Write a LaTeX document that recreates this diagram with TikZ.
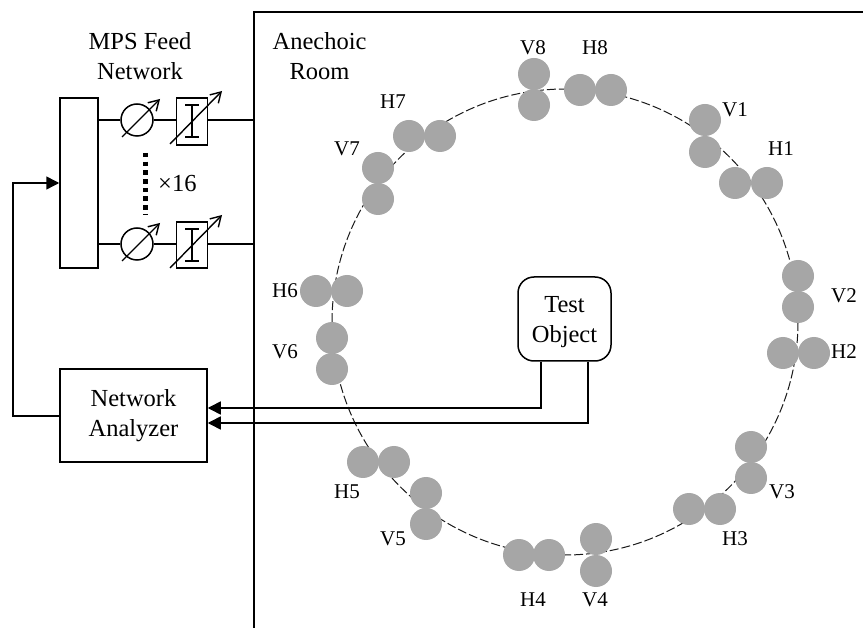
\documentclass[tikz,border=0pt]{standalone}
\usepackage{fontspec}
\setmainfont{Liberation Serif}
\usetikzlibrary{arrows.meta}
\definecolor{elem}{HTML}{A6A6A6}
\tikzset{
  wire/.style={line width=1.5pt,black},
  feed/.style={wire,-{Triangle[length=13pt,width=13pt]}},
  tune/.style={line width=1.4pt,-{Straight Barb[length=10pt,width=12pt]}},
  box/.style={draw,line width=1.5pt,fill=white,inner sep=0pt,minimum width=#1},
  phase/.style={draw,circle,line width=1.5pt,fill=white,minimum size=32pt,inner sep=0pt},
  ant/.style={circle,fill=elem,minimum size=32pt,inner sep=0pt},
  lab/.style={font=\fontsize{21}{24}\selectfont,inner sep=0pt},
  lab2/.style={font=\fontsize{24.5}{30}\selectfont,inner sep=0pt,align=center},
}
\begin{document}
\begin{tikzpicture}[x=1pt,y=-1pt]
\useasboundingbox (0,0) rectangle (863,628);
\fill[white] (0,0) rectangle (863,628);
% room
\coordinate (rb) at (254,628);\coordinate (rt) at (254,12);\coordinate (rr) at (863,12);
\draw[wire] (rb) -- (rt) -- (rr);
\coordinate (r1) at (254,120);\coordinate (r2) at (254,244);
% ring
\draw[line width=1pt,dash pattern=on 9pt off 3pt,black!90] (565,322) circle[radius=233];
% feed
\node[box=38pt,minimum height=170pt] (split) at (79,183) {};
\node[phase] (p1) at (137,120) {};
\node[phase] (p2) at (137,244) {};
\node[box=31pt,minimum height=47pt] (a1) at (192,121.5) {};
\node[box=31pt,minimum height=46pt] (a2) at (192,245) {};
\draw[wire] (split.east|-p1) -- (p1);
\draw[wire] (p1) -- (a1.west|-p1);
\draw[wire] (a1.east|-p1) -- (r1);
\draw[wire] (split.east|-p2) -- (p2);
\draw[wire] (p2) -- (a2.west|-p2);
\draw[wire] (a2.east|-p2) -- (r2);
\foreach \y in {0,124}{
  \draw[tune] (122,137+\y) -- (160,99+\y);
  \draw[line width=1.3pt] (192,105+\y) -- (192,137+\y) (185,105+\y) -- (199,105+\y) (185,137+\y) -- (199,137+\y);
  \draw[tune] (170,144+\y) -- (222,91+\y);
}
\draw[line width=4.5pt,dash pattern=on 4.5pt off 4.2pt] (145.5,153) -- (145.5,214);
\node[lab2] (t1) at (140,56) {MPS Feed\\Network};
\node[lab2] (t2) at (319.5,56) {Anechoic\\Room};
\node[lab2,anchor=west] (t3) at (158,184) {×16};
% analyzer
\node[box=147pt,minimum height=93pt,lab2] (na) at (133.5,415.5) {Network\\Analyzer};
\node[draw,line width=1.5pt,fill=white,rounded corners=16pt,minimum width=93pt,minimum height=84pt,inner sep=0pt] (to) at (564.5,319) {};
\node[lab2] (tl) at (564.5,322) {Test\\Object};
\coordinate (c1) at (13,416);\coordinate (c2) at (13,183);
\draw[feed] (na.west|-c1) -- (c1) -- (c2) -- (split.west|-c2);
\coordinate (o1) at (541,408);\coordinate (o2) at (588,423);
\draw[feed] (to.south-|o1) -- (o1) -- (na.east|-o1);
\draw[feed] (to.south-|o2) -- (o2) -- (na.east|-o2);
% antennas
\foreach \n/\x/\y in {v8a/534/74,v8b/534/105,h8a/580/90,h8b/611/90,v1a/705/120,v1b/705/152,h1a/735/183,h1b/767/183,v2a/798/276,v2b/798/307,h2a/783/353,h2b/814/353,v3a/751/447,v3b/751/478,h3a/689/509,h3b/720/509,v4a/596/539,v4b/596/571,h4a/519/555,h4b/549/555,v5a/426/493,v5b/426/524,h5a/363/462,h5b/394/462,v6a/332/338,v6b/332/369,h6a/316/291,h6b/347/291,v7a/378/168,v7b/378/199,h7a/409/136,h7b/440/136}
  \node[ant] (\n) at (\x,\y) {};
\foreach \n/\t/\x/\y in {l1/V8/533/48,l2/H8/595/48,l3/V1/735/110,l4/H1/781/149,l5/V2/844/296,l6/H2/844/352,l7/V3/782/492,l8/H3/735/539,l9/V4/595/600,l10/H4/533/600,l11/V5/393/539,l12/H5/347/492,l13/V6/285/352,l14/H6/285/291,l15/V7/347/149,l16/H7/393/102}
  \node[lab] (\n) at (\x,\y) {\t};
\end{tikzpicture}
\end{document}
